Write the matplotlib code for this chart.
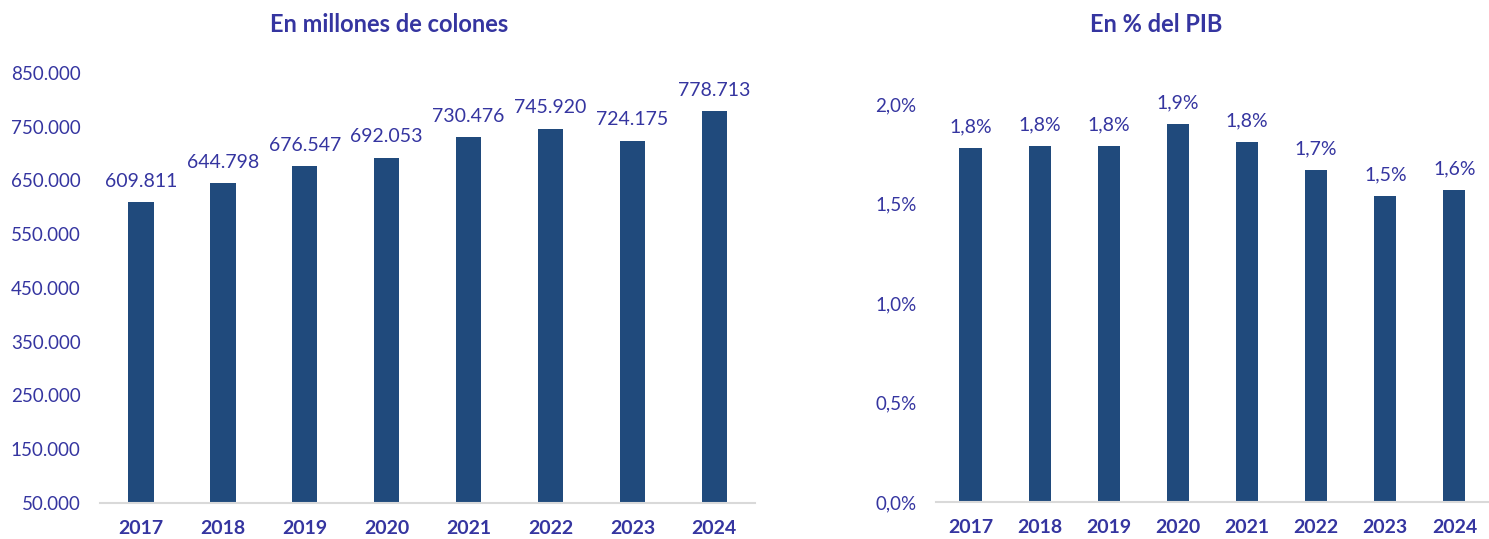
import matplotlib.pyplot as plt

years = ["2017", "2018", "2019", "2020", "2021", "2022", "2023", "2024"]
colones = [609811, 644798, 676547, 692053, 730476, 745920, 724175, 778713]
pib_pct = [1.78, 1.79, 1.79, 1.90, 1.81, 1.67, 1.54, 1.57]
pib_labels = ["1,8%", "1,8%", "1,8%", "1,9%", "1,8%", "1,7%", "1,5%", "1,6%"]

bar_color = "#204A7C"
text_color = "#3535A0"
plt.rcParams["font.family"] = ["Lato", "DejaVu Sans"]

fig = plt.figure(figsize=(14.89, 5.39), dpi=100)
ax1 = fig.add_axes([0.0672, 0.0668, 0.44, 0.798])
ax2 = fig.add_axes([0.6286, 0.0686, 0.3714, 0.7385])

x = range(len(years))

# left panel: millions of colones
ax1.bar(x, [v - 50000 for v in colones], bottom=50000, width=0.31, color=bar_color)
for i, v in enumerate(colones):
    ax1.annotate(f"{v:,}".replace(",", "."), (i, v), xytext=(0, 9),
                 textcoords="offset points", ha="center", va="bottom",
                 fontsize=14, color=text_color)
ax1.set_ylim(50000, 850000)
ax1.set_yticks(range(50000, 850001, 100000))
ax1.set_yticklabels([f"{t:,}".replace(",", ".") for t in range(50000, 850001, 100000)])

# right panel: % of GDP
ax2.bar(x, pib_pct, width=0.32, color=bar_color)
for i, v in enumerate(pib_pct):
    ax2.annotate(pib_labels[i], (i, v), xytext=(0, 9),
                 textcoords="offset points", ha="center", va="bottom",
                 fontsize=14, color=text_color)
ax2.set_ylim(0, 2.0)
ax2.set_yticks([0, 0.5, 1.0, 1.5, 2.0])
ax2.set_yticklabels(["0,0%", "0,5%", "1,0%", "1,5%", "2,0%"])

for ax in (ax1, ax2):
    ax.set_xlim(-0.5, len(years) - 0.5)
    ax.set_xticks(list(x))
    ax.set_xticklabels(years, fontweight="bold", fontsize=14)
    for s in ("top", "right", "left"):
        ax.spines[s].set_visible(False)
    ax.spines["bottom"].set_color("#D9D9D9")
    ax.spines["bottom"].set_linewidth(1.5)
    ax.tick_params(axis="both", length=0, labelcolor=text_color)
    ax.tick_params(axis="y", pad=14, labelsize=13.5)
    ax.tick_params(axis="x", pad=12)

fig.text(389 / 1489, 0.954, "En millones de colones", ha="center", va="center",
         fontsize=17, fontweight="bold", color=text_color)
fig.text(1156 / 1489, 0.954, "En % del PIB", ha="center", va="center",
         fontsize=17, fontweight="bold", color=text_color)

fig.savefig("out.png", dpi=100)
